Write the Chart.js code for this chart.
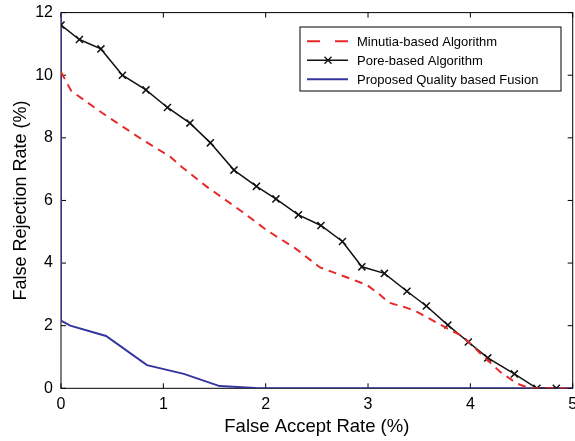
<!DOCTYPE html>
<html>
<head>
<meta charset="utf-8">
<script src="https://cdn.jsdelivr.net/npm/chart.js@4/dist/chart.umd.min.js"></script>
<style>
html, body { margin: 0; padding: 0; overflow: hidden; background: #fff; }
canvas { display: block; position: relative; top: -5px; }
</style>
</head>
<body>
<canvas id="roc-grafica" width="590" height="446"></canvas>
<script>
// tick labels
const farTicks = [0, 1, 2, 3, 4, 5];
const frrTicks = [0, 2, 4, 6, 8, 10, 12];

// Minutia-based (red dashed)
const minutiaFar = [0, 0.1, 0.4, 0.8, 1.07, 1.18, 1.42, 1.77, 2.01, 2.29, 2.53, 2.65, 2.86, 2.99, 3.12, 3.2, 3.38, 3.48, 3.77, 3.93, 4.13, 4.29, 4.45, 4.58, 5];
const minutiaFrr = [10.1, 9.5, 8.8, 7.93, 7.39, 7.07, 6.45, 5.64, 5.05, 4.47, 3.86, 3.72, 3.46, 3.3, 2.98, 2.74, 2.57, 2.44, 1.92, 1.65, 1.01, 0.53, 0.16, 0, 0];

// Pore-based (black, x markers)
const poreFar = [0, 0.18, 0.39, 0.60, 0.83, 1.04, 1.26, 1.46, 1.69, 1.91, 2.10, 2.32, 2.54, 2.75, 2.94, 3.16, 3.38, 3.57, 3.78, 3.98, 4.17, 4.43, 4.65, 4.84];
const poreFrr = [11.6, 11.14, 10.84, 10.0, 9.53, 8.97, 8.47, 7.84, 6.97, 6.45, 6.05, 5.54, 5.2, 4.69, 3.88, 3.67, 3.10, 2.63, 2.02, 1.48, 0.97, 0.46, 0, 0];

// Proposed fusion (blue)
const fusionFar = [0, 0, 0.09, 0.44, 0.84, 1.2, 1.55, 1.9, 5];
const fusionFrr = [12, 2.16, 2.0, 1.67, 0.74, 0.46, 0.07, 0.01, 0];

const labels = ['Minutia-based Algorithm', 'Pore-based Algorithm', 'Proposed Quality based Fusion'];

const puntos = (xs, ys) => xs.map((v, i) => ({ x: v, y: ys[i] }));

Chart.defaults.font.family = 'Arial, "Liberation Sans", sans-serif';
Chart.defaults.font.size = 16;
Chart.defaults.color = '#000';

// box, inward ticks and legend, matlab style
const marco = {
    id: 'marco',
    beforeDatasetsDraw(chart) {
        const { ctx, chartArea: a, scales: { x, y } } = chart;
        ctx.save();
        ctx.strokeStyle = '#000';
        ctx.lineWidth = 1;
        ctx.strokeRect(a.left, a.top, a.width, a.height);
        ctx.beginPath();
        x.ticks.forEach(t => {
            const px = x.getPixelForValue(t.value);
            ctx.moveTo(px, a.bottom); ctx.lineTo(px, a.bottom - 5);
            ctx.moveTo(px, a.top); ctx.lineTo(px, a.top + 5);
        });
        y.ticks.forEach(t => {
            const py = y.getPixelForValue(t.value);
            ctx.moveTo(a.left, py); ctx.lineTo(a.left + 5, py);
            ctx.moveTo(a.right, py); ctx.lineTo(a.right - 5, py);
        });
        ctx.stroke();
        ctx.restore();
    },
    afterDraw(chart) {
        const { ctx, chartArea: a } = chart;
        const left = a.right - 272.7, top = a.top + 14.4;
        const w = 261, h = 64;
        ctx.save();
        ctx.fillStyle = '#fff';
        ctx.fillRect(left, top, w, h);
        ctx.strokeStyle = '#000';
        ctx.lineWidth = 1;
        ctx.strokeRect(left, top, w, h);
        ctx.font = '13px Arial, "Liberation Sans", sans-serif';
        ctx.textBaseline = 'middle';
        chart.data.datasets.forEach((ds, i) => {
            const yy = top + 14.3 + i * 19;
            ctx.strokeStyle = ds.borderColor;
            ctx.lineWidth = ds.borderWidth;
            ctx.setLineDash(ds.borderDash ? [13, 15] : []);
            ctx.beginPath();
            ctx.moveTo(left + 7, yy);
            ctx.lineTo(left + 48, yy);
            ctx.stroke();
            ctx.setLineDash([]);
            if (ds.pointRadius > 0) {
                const cx = left + 28, r = 3.5;
                ctx.lineWidth = 1.3;
                ctx.beginPath();
                ctx.moveTo(cx - r, yy - r); ctx.lineTo(cx + r, yy + r);
                ctx.moveTo(cx - r, yy + r); ctx.lineTo(cx + r, yy - r);
                ctx.stroke();
            }
            ctx.fillStyle = '#000';
            ctx.fillText(ds.label, left + 57, yy + 1);
        });
        ctx.restore();
    }
};

const ctx = document.getElementById('roc-grafica').getContext('2d');
const myChart = new Chart(ctx, {
    type: 'line',
    data: {
        datasets: [{
            label: labels[0],
            data: puntos(minutiaFar, minutiaFrr),
            borderColor: 'rgb(230, 40, 40)',
            borderWidth: 2,
            borderDash: [8, 6],
            pointRadius: 0,
            tension: 0
        }, {
            label: labels[1],
            data: puntos(poreFar, poreFrr),
            borderColor: '#111',
            borderWidth: 1.5,
            pointStyle: 'crossRot',
            pointRadius: 5,
            pointBorderWidth: 1.5,
            pointBorderColor: '#111',
            tension: 0
        }, {
            label: labels[2],
            data: puntos(fusionFar, fusionFrr),
            borderColor: 'rgb(52, 52, 160)',
            borderWidth: 2,
            pointRadius: 0,
            tension: 0
        }]
    },
    options: {
        responsive: false,
        animation: false,
        layout: { padding: { top: 7, right: 17.3, left: 0, bottom: 0 } },
        scales: {
            x: {
                type: 'linear',
                min: 0,
                max: 5,
                afterBuildTicks: s => { s.ticks = farTicks.map(v => ({ value: v })); },
                afterFit: s => { s.height = 52.7; },
                grid: { display: false, drawTicks: false },
                border: { display: false },
                ticks: { padding: 7, maxRotation: 0 },
                title: { display: true, text: 'False Accept Rate (%)', font: { size: 18.5 }, padding: { top: 0, bottom: 3 } }
            },
            y: {
                type: 'linear',
                min: 0,
                max: 12,
                afterBuildTicks: s => { s.ticks = frrTicks.map(v => ({ value: v })); },
                afterFit: s => { s.width = 61; },
                grid: { display: false, drawTicks: false },
                border: { display: false },
                ticks: { padding: 8 },
                title: { display: true, text: 'False Rejection Rate (%)', font: { size: 18 }, padding: { top: 10, bottom: 0 } }
            }
        },
        plugins: {
            legend: { display: false },
            tooltip: { enabled: false }
        }
    },
    plugins: [marco]
});
</script>
</body>
</html>
